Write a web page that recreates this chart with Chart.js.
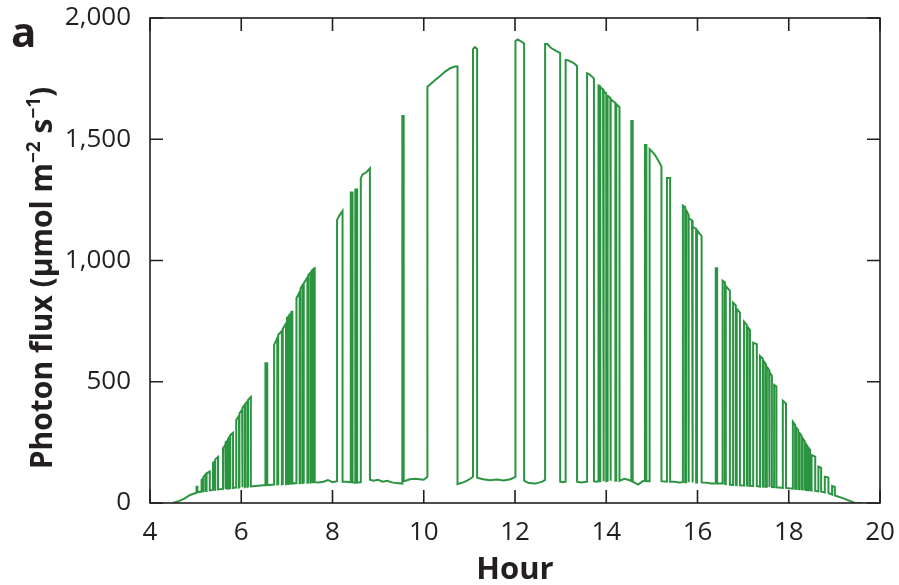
<!DOCTYPE html>
<html>
<head>
<meta charset="utf-8">
<script src="https://cdn.jsdelivr.net/npm/chart.js"></script>
<style>
  html, body { margin: 0; padding: 0; background: #fff; }
  #wrap { width: 899px; height: 585px; }
</style>
</head>
<body>
<div id="wrap"><canvas id="chart" width="899" height="585"></canvas></div>
<script>
// photon flux trace: one point per corner of the step line
const hours = [
  4.5, 4.66, 4.75, 4.88,
  5.02, 5.02, 5.04, 5.04,
  5.13, 5.13, 5.16, 5.16,
  5.17, 5.17, 5.22, 5.22,
  5.24, 5.24, 5.31, 5.31,
  5.38, 5.38, 5.42, 5.42,
  5.43, 5.43, 5.49, 5.49,
  5.6, 5.6, 5.65, 5.65,
  5.66, 5.66, 5.7, 5.7,
  5.71, 5.71, 5.75, 5.75,
  5.76, 5.76, 5.82, 5.82,
  5.89, 5.89, 5.95, 5.95,
  5.96, 5.96, 6.02, 6.02,
  6.03, 6.03, 6.08, 6.08,
  6.09, 6.09, 6.14, 6.14,
  6.15, 6.15, 6.21, 6.21,
  6.53, 6.53, 6.57, 6.57,
  6.72, 6.72, 6.79, 6.79,
  6.81, 6.81, 6.89, 6.89,
  6.91, 6.91, 6.98, 6.98,
  7.0, 7.0, 7.04, 7.04,
  7.05, 7.05, 7.09, 7.09,
  7.1, 7.1, 7.12, 7.12,
  7.21, 7.21, 7.28, 7.28,
  7.3, 7.3, 7.35, 7.35,
  7.37, 7.37, 7.45, 7.45,
  7.47, 7.47, 7.52, 7.52,
  7.54, 7.54, 7.57, 7.57,
  7.58, 7.58, 7.61, 7.61,
  7.7, 7.8, 7.9, 8.0,
  8.1, 8.1, 8.15, 8.22, 8.22,
  8.3,
  8.4, 8.4, 8.44, 8.44,
  8.5, 8.5, 8.54, 8.54,
  8.62, 8.62, 8.66, 8.75, 8.82, 8.82,
  8.9, 9.0, 9.1, 9.2, 9.3, 9.4, 9.53,
  9.53, 9.56, 9.56,
  9.6, 9.7, 9.8, 9.9, 10.0, 10.08,
  10.08, 10.17, 10.25, 10.36, 10.47, 10.58, 10.68, 10.74, 10.74,
  10.85, 10.95, 11.02, 11.08,
  11.08, 11.12, 11.17, 11.17,
  11.3, 11.45, 11.6, 11.75, 11.9, 12.01,
  12.01, 12.06, 12.12, 12.2, 12.2,
  12.3, 12.45, 12.6, 12.66,
  12.66, 12.71, 12.8, 12.93, 12.99, 12.99,
  13.05, 13.11,
  13.11, 13.17, 13.28, 13.36, 13.36,
  13.45, 13.58,
  13.58, 13.63, 13.73, 13.73,
  13.78, 13.83,
  13.83, 13.86, 13.86,
  13.87, 13.87, 13.93, 13.93,
  13.95, 13.95, 14.0, 14.0,
  14.03, 14.03, 14.09, 14.09,
  14.1, 14.1, 14.2, 14.2,
  14.22, 14.22, 14.29, 14.29,
  14.4, 14.5, 14.55,
  14.55, 14.58, 14.58,
  14.7, 14.8, 14.85,
  14.85, 14.88, 14.88,
  14.95, 14.95, 15.0, 15.07, 15.17, 15.21, 15.21,
  15.33, 15.33, 15.4, 15.4,
  15.5, 15.6, 15.68,
  15.68, 15.73, 15.73,
  15.75, 15.75, 15.8, 15.8,
  15.81, 15.81, 15.88, 15.88,
  15.9, 15.9, 15.97, 15.97,
  15.99, 15.99, 16.09, 16.09,
  16.2, 16.3, 16.4,
  16.4, 16.43, 16.43,
  16.55, 16.55, 16.6, 16.6,
  16.62, 16.62, 16.71, 16.71,
  16.78, 16.78, 16.84, 16.84,
  16.86, 16.86, 16.93, 16.93,
  17.02, 17.02, 17.08, 17.08,
  17.1, 17.1, 17.15, 17.15,
  17.22, 17.22, 17.3, 17.3,
  17.37, 17.37, 17.43, 17.43,
  17.45, 17.45, 17.5, 17.5,
  17.52, 17.52, 17.57, 17.57,
  17.58, 17.58, 17.63, 17.63,
  17.68, 17.68, 17.73, 17.73,
  17.87, 17.87, 17.94, 17.94,
  18.09, 18.09, 18.14, 18.14,
  18.16, 18.16, 18.21, 18.21,
  18.23, 18.23, 18.28, 18.28,
  18.3, 18.3, 18.35, 18.35,
  18.37, 18.37, 18.41, 18.41,
  18.43, 18.43, 18.47, 18.47,
  18.5, 18.5, 18.58, 18.58,
  18.65, 18.65, 18.71, 18.71,
  18.79, 18.79, 18.87, 18.87,
  18.95, 18.95, 19.01, 19.01,
  19.2, 19.45, 19.6
];

const flux = [
  0, 10, 18, 33,
  42, 67, 67, 44,
  47, 95, 100, 48,
  48, 108, 118, 50,
  50, 122, 130, 52,
  54, 165, 172, 55,
  55, 180, 190, 56,
  58, 226, 240, 58,
  59, 250, 258, 59,
  60, 265, 275, 60,
  61, 280, 289, 62,
  64, 342, 360, 64,
  65, 370, 385, 65,
  66, 392, 405, 66,
  67, 410, 420, 67,
  68, 425, 437, 68,
  74, 576, 576, 74,
  76, 652, 680, 76,
  77, 693, 710, 77,
  78, 718, 740, 78,
  79, 763, 770, 79,
  80, 775, 782, 80,
  80, 789, 789, 80,
  82, 844, 870, 82,
  83, 885, 900, 83,
  84, 906, 930, 84,
  85, 940, 950, 85,
  86, 958, 962, 86,
  86, 965, 968, 86,
  85, 88, 95, 86,
  90, 1167, 1185, 1204, 88,
  88,
  86, 1280, 1280, 85,
  84, 1293, 1293, 84,
  86, 1339, 1355, 1365, 1380, 96,
  92, 96, 88, 92, 85, 82, 80,
  1596, 1596, 90,
  92, 98, 100, 98, 96, 108,
  1717, 1731, 1744, 1761, 1779, 1793, 1800, 1800, 78,
  84, 92, 100, 108,
  1872, 1880, 1872, 104,
  98, 94, 97, 93, 98, 108,
  1905, 1912, 1905, 1895, 92,
  82, 80, 88, 95,
  1893, 1893, 1875, 1861, 1855, 88,
  86, 88,
  1827, 1825, 1815, 1802, 88,
  85, 88,
  1772, 1768, 1751, 90,
  88, 90,
  1722, 1720, 90,
  90, 1715, 1705, 90,
  90, 1698, 1690, 90,
  92, 1680, 1670, 92,
  92, 1665, 1650, 92,
  92, 1645, 1632, 92,
  100, 95, 90,
  1575, 1575, 88,
  76, 90, 92,
  1476, 1476, 90,
  90, 1459, 1450, 1435, 1402, 1387, 90,
  88, 1340, 1340, 88,
  88, 85, 86,
  1226, 1220, 86,
  86, 1208, 1190, 86,
  86, 1175, 1165, 85,
  85, 1140, 1130, 85,
  85, 1125, 1100, 85,
  84, 80, 80,
  968, 968, 80,
  80, 917, 910, 79,
  78, 895, 875, 76,
  74, 826, 815, 74,
  73, 800, 785, 73,
  72, 748, 735, 72,
  71, 725, 713, 71,
  70, 661, 655, 70,
  68, 606, 595, 68,
  67, 585, 572, 67,
  67, 562, 548, 67,
  66, 540, 525, 66,
  65, 487, 480, 65,
  62, 422, 410, 62,
  59, 335, 322, 59,
  58, 312, 300, 58,
  57, 290, 278, 57,
  56, 268, 255, 56,
  54, 245, 235, 54,
  53, 228, 219, 53,
  51, 198, 191, 50,
  48, 150, 145, 47,
  43, 108, 105, 41,
  35, 70, 66, 31,
  19, 0, 0
];

const hourTicks = [4, 6, 8, 10, 12, 14, 16, 18, 20];
const fluxTicks = [0, 500, 1000, 1500, 2000];
const fluxTickLabels = ["0", "500", "1,000", "1,500", "2,000"];

if (hours.length !== flux.length) console.error("length mismatch", hours.length, flux.length);

const INK = "#231f20";
const GREEN = "#2a9440";
const TICK_FONT = { family: "'Open Sans', sans-serif", size: 26 };

// frame round the plot plus inward ticks on all four sides
const frameTicks = {
  id: "frameTicks",
  afterDatasetsDraw(chart) {
    const { ctx, chartArea: a, scales } = chart;
    const len = 13;
    ctx.save();
    ctx.strokeStyle = INK;
    ctx.lineWidth = 1.6;
    ctx.strokeRect(a.left, a.top, a.right - a.left, a.bottom - a.top);
    ctx.beginPath();
    hourTicks.forEach(v => {
      const x = scales.x.getPixelForValue(v);
      ctx.moveTo(x, a.bottom); ctx.lineTo(x, a.bottom - len);
      ctx.moveTo(x, a.top); ctx.lineTo(x, a.top + len);
    });
    fluxTicks.forEach(v => {
      const y = scales.y.getPixelForValue(v);
      ctx.moveTo(a.left, y); ctx.lineTo(a.left + len, y);
      ctx.moveTo(a.right, y); ctx.lineTo(a.right - len, y);
    });
    ctx.stroke();
    ctx.restore();
  }
};

// axis titles (with superscripts) and the panel letter
const titles = {
  id: "titles",
  afterDraw(chart) {
    const { ctx, chartArea: a } = chart;
    ctx.save();
    ctx.fillStyle = INK;
    ctx.textBaseline = "alphabetic";

    ctx.font = "bold 42px 'Open Sans', sans-serif";
    ctx.textAlign = "left";
    ctx.fillText("a", 11, 47);

    ctx.font = "bold 31px 'Open Sans', sans-serif";
    ctx.textAlign = "center";
    ctx.fillText("Hour", (a.left + a.right) / 2, 579);

    const big = "bold 30px 'Open Sans', sans-serif";
    const sup = "bold 19px 'Open Sans', sans-serif";
    const parts = [
      ["Photon flux (\u03bcmol m", big, 0],
      ["\u22122", sup, -12],
      [" s", big, 0],
      ["\u22121", sup, -12],
      [")", big, 0]
    ];
    let total = 0;
    parts.forEach(p => { ctx.font = p[1]; total += ctx.measureText(p[0]).width; });
    ctx.translate(52, 278);
    ctx.rotate(-Math.PI / 2);
    ctx.textAlign = "left";
    let x = -total / 2;
    parts.forEach(p => {
      ctx.font = p[1];
      ctx.fillText(p[0], x, p[2]);
      x += ctx.measureText(p[0]).width;
    });
    ctx.restore();
  }
};

const ctx = document.getElementById("chart").getContext("2d");
new Chart(ctx, {
  type: "line",
  data: {
    datasets: [{
      data: hours.map((h, i) => ({ x: h, y: flux[i] })),
      borderColor: GREEN,
      borderWidth: 2,
      pointRadius: 0,
      tension: 0,
      fill: false
    }]
  },
  options: {
    responsive: false,
    animation: false,
    parsing: false,
    layout: { padding: { top: 18, right: 19, left: 0, bottom: 0 } },
    plugins: { legend: { display: false }, tooltip: { enabled: false } },
    scales: {
      x: {
        type: "linear",
        min: 4,
        max: 20,
        afterBuildTicks: s => { s.ticks = hourTicks.map(v => ({ value: v })); },
        afterFit: s => { s.height = 82; s.paddingLeft = 0; s.paddingRight = 0; },
        grid: { display: false },
        border: { display: false },
        ticks: { font: TICK_FONT, color: INK, padding: 6, maxRotation: 0, autoSkip: false }
      },
      y: {
        min: 0,
        max: 2000,
        afterBuildTicks: s => { s.ticks = fluxTicks.map(v => ({ value: v })); },
        afterFit: s => { s.width = 150; s.paddingTop = 0; s.paddingBottom = 0; },
        grid: { display: false },
        border: { display: false },
        ticks: {
          font: TICK_FONT, color: INK, padding: 11,
          callback: v => fluxTickLabels[fluxTicks.indexOf(v)]
        }
      }
    }
  },
  plugins: [frameTicks, titles]
});
</script>
</body>
</html>
